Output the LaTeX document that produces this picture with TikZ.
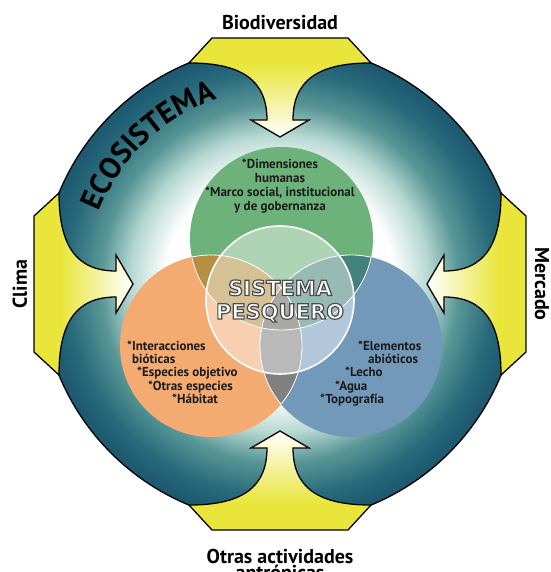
\documentclass[tikz,border=0pt]{standalone}
\usepackage{fontspec}
\setmainfont{PT Sans}
\newfontfamily\sisfont{DejaVu Sans}
\usetikzlibrary{decorations.text}
\definecolor{ylw}{RGB}{233,229,58}
\definecolor{tA}{RGB}{182,216,210}
\definecolor{tB}{RGB}{88,150,150}
\definecolor{tC}{RGB}{40,105,122}
\definecolor{tD}{RGB}{28,88,112}
\definecolor{orng}{RGB}{243,171,113}
\definecolor{grn}{RGB}{108,178,122}
\definecolor{blu}{RGB}{115,153,186}
\definecolor{og}{RGB}{182,143,66}
\definecolor{gb}{RGB}{66,130,122}
\definecolor{ob}{RGB}{128,128,128}
\definecolor{ogb}{RGB}{100,100,92}
\definecolor{txt}{RGB}{28,28,28}
\pgfdeclareverticalshading{yshade}{100bp}{color(0bp)=(white); color(25bp)=(white); color(62bp)=(ylw); color(100bp)=(ylw)}
\newcommand\yshapepath{(-68,246) -- (68,246) -- (91,221) .. controls (40,221) and (13,205) .. (13,164) -- (29,164) -- (0,147) -- (-29,164) -- (-13,164) .. controls (-13,205) and (-40,221) .. (-91,221) -- cycle}
\newcommand\outlinetext[1]{\special{pdf:literal direct 0.3 0.3 0.3 RG 1.2 w 2 Tr}#1\special{pdf:literal direct 0 Tr}}
\begin{document}
\begin{tikzpicture}[x=1pt,y=1pt,
  outl/.style={draw=black,line width=1.3pt,line join=miter},
  itm/.style={font=\fontsize{13}{14}\selectfont\bfseries, text=txt, inner sep=0pt, anchor=west, text height=9pt, text depth=2.5pt},
  lbl/.style={font=\fontsize{20}{22}\selectfont\bfseries, text=black, inner sep=0pt, anchor=base},
  wline/.style={draw=white, line width=0.8pt},
  ]
\clip (-280,-288) rectangle (270,284);
% disk with radial glow built from rings
\foreach \r in {239,237.5,...,110}{
  \ifdim\r pt>215pt \pgfmathsetmacro\p{(\r-215)/24*100}\colorlet{rc}{tD!\p!tC}%
  \else\ifdim\r pt>180pt \pgfmathsetmacro\p{(\r-180)/35*100}\colorlet{rc}{tC!\p!tB}%
  \else\ifdim\r pt>150pt \pgfmathsetmacro\p{(\r-150)/30*100}\colorlet{rc}{tB!\p!tA}%
  \else \pgfmathsetmacro\p{max(0,(\r-115)/35*100)}\colorlet{rc}{tA!\p!white}%
  \fi\fi\fi
  \fill[rc] (0,0) circle[radius=\r];
}
\draw[outl] (0,0) circle[radius=239];
% yellow arrows
\begin{scope}[x={(1pt,0pt)},y={(0pt,1pt)}]
  \shadedraw[outl,shading=yshade,shading angle=0] \yshapepath;
\end{scope}
\begin{scope}[x={(1pt,0pt)},y={(0pt,-1pt)}]
  \shadedraw[outl,shading=yshade,shading angle=180] \yshapepath;
\end{scope}
\begin{scope}[x={(0pt,1pt)},y={(-1pt,0pt)}]
  \shadedraw[outl,shading=yshade,shading angle=90] \yshapepath;
\end{scope}
\begin{scope}[x={(0pt,1pt)},y={(1pt,0pt)}]
  \shadedraw[outl,shading=yshade,shading angle=-90] \yshapepath;
\end{scope}
% venn
\coordinate (G) at (1.5,45.5);
\coordinate (O) at (-69,-62);
\coordinate (B) at (71,-62);
\coordinate (C) at (0,-16);
\fill[orng] (O) circle[radius=91];
\fill[blu] (B) circle[radius=91];
\fill[grn] (G) circle[radius=91.5];
\begin{scope}\clip (O) circle[radius=91]; \fill[og] (G) circle[radius=91.5]; \end{scope}
\begin{scope}\clip (B) circle[radius=91]; \fill[gb] (G) circle[radius=91.5]; \end{scope}
\begin{scope}\clip (O) circle[radius=91]; \fill[ob] (B) circle[radius=91]; \end{scope}
\begin{scope}\clip (O) circle[radius=91]; \clip (B) circle[radius=91]; \fill[ogb] (G) circle[radius=91.5]; \end{scope}
\fill[white, fill opacity=0.45] (C) circle[radius=74];
\begin{scope}\clip (O) circle[radius=91] (B) circle[radius=91] (C) circle[radius=74]; \draw[wline] (G) circle[radius=91.5]; \end{scope}
\begin{scope}\clip (G) circle[radius=91.5] (B) circle[radius=91] (C) circle[radius=74]; \draw[wline] (O) circle[radius=91]; \end{scope}
\begin{scope}\clip (G) circle[radius=91.5] (O) circle[radius=91] (C) circle[radius=74]; \draw[wline] (B) circle[radius=91]; \end{scope}
\draw[draw=white, line width=1.6pt] (C) circle[radius=74];
% texts
\node[font=\fontsize{13}{14}\selectfont\bfseries, text=txt, align=center, inner sep=0pt] (gtxt) at (0,98) {*Dimensiones\\humanas\\*Marco social, institucional\\y de gobernanza};
\node[itm] (o1) at (-153,-63) {*Interacciones};
\node[itm] (o2) at (-148,-76) {bióticas};
\node[itm] (o3) at (-143,-89) {*Especies objetivo};
\node[itm] (o4) at (-132,-103) {*Otras especies};
\node[itm] (o5) at (-108,-116) {*Hábitat};
\node[itm] (b1) at (78,-63) {*Elementos};
\node[itm] (b2) at (88,-76) {abióticos};
\node[itm] (b3) at (65,-89) {*Lecho};
\node[itm] (b4) at (55,-103) {*Agua};
\node[itm] (b5) at (40,-116) {*Topografía};
\node[text=white, font=\sisfont\bfseries\fontsize{21}{23.5}\selectfont, align=center, inner sep=0pt] (sp) at (0,-17) {\outlinetext{SISTEMA}\\\outlinetext{PESQUERO}};
\path[decorate, decoration={text along path, text={|\fontsize{30}{30}\selectfont\bfseries|ECOSISTEMA}, text align=center}] (168:195) arc[start angle=168, end angle=99, radius=195];
% outer labels
\node[lbl] (bio) at (0,254) {Biodiversidad};
\node[lbl, rotate=90] (cli) at (-253,0) {Clima};
\node[lbl, rotate=-90] (mer) at (255,0) {Mercado};
\node[lbl] (ot1) at (0,-279) {Otras actividades};
\node[lbl] (ot2) at (0,-295) {antrópicas};
\end{tikzpicture}
\end{document}
